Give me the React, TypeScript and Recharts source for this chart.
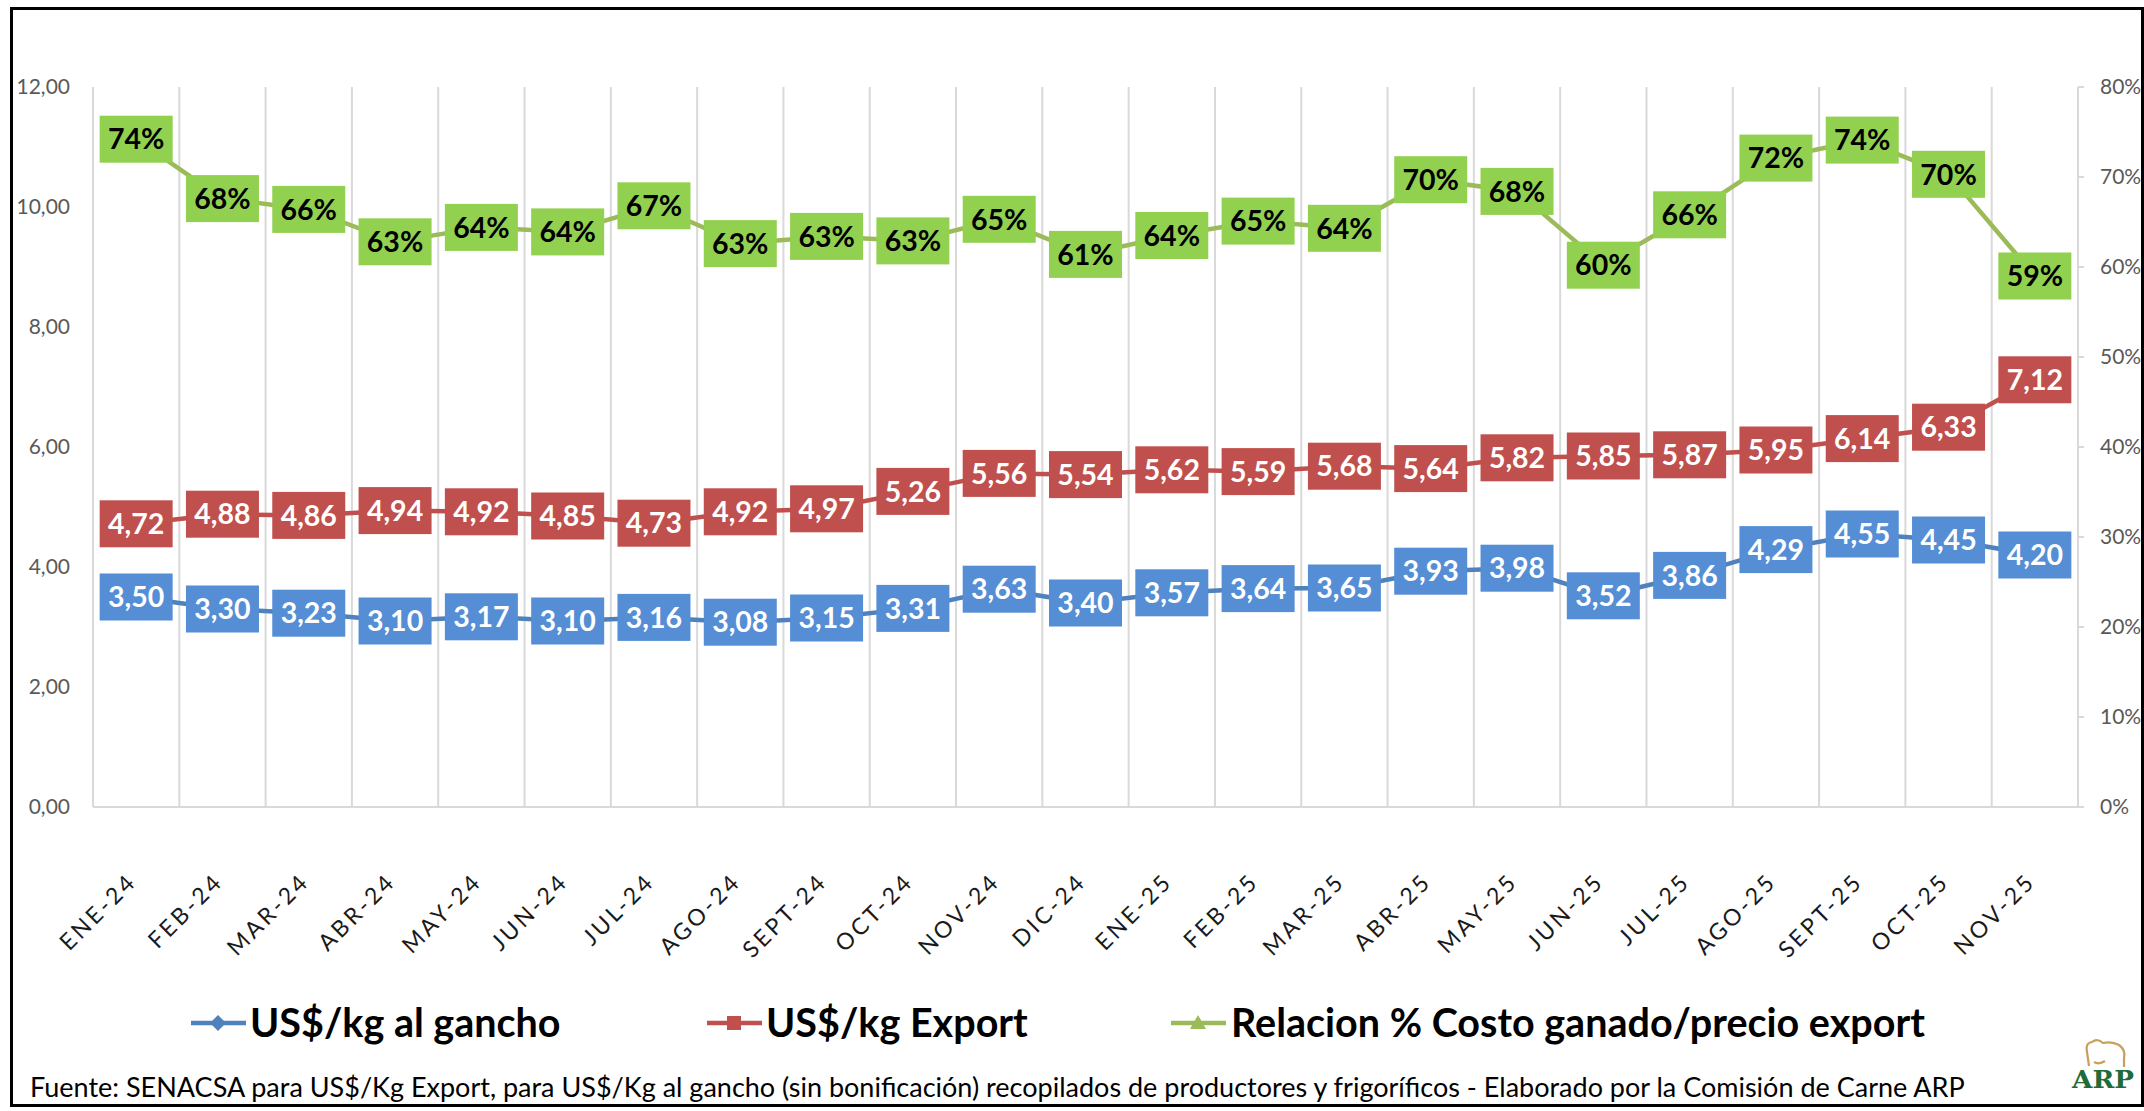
import React from 'react';
import { LineChart, Line, XAxis, YAxis, ReferenceLine, LabelList } from 'recharts';

if (typeof document !== 'undefined') {
  document.body.style.margin = '0';
}

const categories = [
  'ENE-24', 'FEB-24', 'MAR-24', 'ABR-24', 'MAY-24', 'JUN-24', 'JUL-24', 'AGO-24', 'SEPT-24', 'OCT-24', 'NOV-24', 'DIC-24',
  'ENE-25', 'FEB-25', 'MAR-25', 'ABR-25', 'MAY-25', 'JUN-25', 'JUL-25', 'AGO-25', 'SEPT-25', 'OCT-25', 'NOV-25',
];
const gancho = [3.50, 3.30, 3.23, 3.10, 3.17, 3.10, 3.16, 3.08, 3.15, 3.31, 3.63, 3.40, 3.57, 3.64, 3.65, 3.93, 3.98, 3.52, 3.86, 4.29, 4.55, 4.45, 4.20];
const exportPrice = [4.72, 4.88, 4.86, 4.94, 4.92, 4.85, 4.73, 4.92, 4.97, 5.26, 5.56, 5.54, 5.62, 5.59, 5.68, 5.64, 5.82, 5.85, 5.87, 5.95, 6.14, 6.33, 7.12];
const relacion = [0.742, 0.676, 0.664, 0.628, 0.644, 0.639, 0.668, 0.626, 0.634, 0.629, 0.653, 0.614, 0.635, 0.651, 0.643, 0.697, 0.684, 0.602, 0.658, 0.721, 0.741, 0.703, 0.590];
const leftTicks = [0, 2, 4, 6, 8, 10, 12];
const rightTicks = [0, 0.1, 0.2, 0.3, 0.4, 0.5, 0.6, 0.7, 0.8];

const seriesNames = ['US$/kg al gancho', 'US$/kg Export', 'Relacion % Costo ganado/precio export'];
const footerText = 'Fuente: SENACSA para US$/Kg Export, para US$/Kg al gancho (sin bonificación) recopilados de productores y frigoríficos - Elaborado por la Comisión de Carne ARP';

const data = categories.map((c, i) => ({ idx: i, cat: c, gancho: gancho[i], exp: exportPrice[i], rel: relacion[i] }));
const boundaries = [...categories.map((_, i) => i - 0.5), categories.length - 0.5];

const FONT = 'Lato, "Open Sans", sans-serif';
const BLUE_BOX = '#558ed5';
const BLUE_LINE = '#4f81bd';
const RED = '#c0504d';
const GREEN_BOX = '#92d050';
const GREEN_LINE = '#9bbb59';
const GRID = '#d9d9d9';

const fmtNum = (v: number) => v.toFixed(2).replace('.', ',');
const fmtPct = (v: number) => `${Math.round(v * 100)}%`;

const makeLabel = (fill: string, color: string, fmt: (v: number) => string) => (props: any) => {
  const { x, y, value } = props;
  if (x == null || y == null) return null;
  return (
    <g>
      <rect x={x - 36.5} y={y - 23.5} width={73} height={47} fill={fill} />
      <text x={x} y={y} dy="0.36em" textAnchor="middle" fill={color} fontFamily={FONT} fontWeight={700} fontSize={28.5}>
        {fmt(value)}
      </text>
    </g>
  );
};

const XTick = (props: any) => {
  const { x, y, payload } = props;
  const bx = x + 2;
  const by = y + 68;
  return (
    <text x={bx} y={by} transform={`rotate(-45 ${bx} ${by})`} textAnchor="end" fill="#1a1a1a" fontFamily={FONT} fontSize={23} letterSpacing={3}>
      {categories[payload.value]}
    </text>
  );
};

const LegendMarker = ({ kind, color, x }: { kind: string; color: string; x: number }) => {
  const cx = x + 27;
  const cy = 1023;
  let shape: React.ReactNode = null;
  if (kind === 'diamond') shape = <polygon points={`${cx},${cy - 8} ${cx + 8},${cy} ${cx},${cy + 8} ${cx - 8},${cy}`} fill={color} />;
  if (kind === 'square') shape = <rect x={cx - 7} y={cy - 7} width={14} height={14} fill={color} />;
  if (kind === 'triangle') shape = <polygon points={`${cx},${cy - 8} ${cx + 8},${cy + 6} ${cx - 8},${cy + 6}`} fill={color} />;
  return (
    <g>
      <line x1={x} x2={x + 55} y1={cy} y2={cy} stroke={color} strokeWidth={4.5} />
      {shape}
    </g>
  );
};

export default function App() {
  return (
    <div style={{ position: 'relative', width: 2144, height: 1111, overflow: 'hidden', background: '#fff' }}>
      <div style={{ position: 'absolute', left: 0, top: 0 }}>
        <LineChart width={2144} height={1111} data={data} margin={{ top: 87, right: 0, bottom: 204, left: 0 }}>
          <XAxis
            type="number"
            dataKey="idx"
            domain={[-0.5, categories.length - 0.5]}
            ticks={categories.map((_, i) => i)}
            interval={0}
            tick={<XTick />}
            tickLine={false}
            axisLine={{ stroke: GRID, strokeWidth: 2 }}
            height={100}
          />
          <YAxis
            yAxisId="left"
            domain={[0, 12]}
            ticks={leftTicks}
            tickFormatter={fmtNum}
            axisLine={false}
            tickLine={false}
            tickSize={6}
            tickMargin={17}
            width={93}
            tick={{ fill: '#595959', fontFamily: FONT, fontSize: 21 }}
          />
          <YAxis
            yAxisId="right"
            orientation="right"
            domain={[0, 0.8]}
            ticks={rightTicks}
            tickFormatter={fmtPct}
            axisLine={{ stroke: GRID, strokeWidth: 2 }}
            tickLine={{ stroke: GRID, strokeWidth: 2 }}
            tickSize={6}
            tickMargin={16}
            width={66}
            tick={{ fill: '#595959', fontFamily: FONT, fontSize: 21 }}
          />
          {boundaries.map((b) => (
            <ReferenceLine key={b} x={b} yAxisId="left" stroke={GRID} strokeWidth={2} />
          ))}
          <Line yAxisId="left" dataKey="gancho" stroke={BLUE_LINE} strokeWidth={4.5} dot={false} isAnimationActive={false}>
            <LabelList dataKey="gancho" content={makeLabel(BLUE_BOX, '#ffffff', fmtNum)} />
          </Line>
          <Line yAxisId="left" dataKey="exp" stroke={RED} strokeWidth={4.5} dot={false} isAnimationActive={false}>
            <LabelList dataKey="exp" content={makeLabel(RED, '#ffffff', fmtNum)} />
          </Line>
          <Line yAxisId="right" dataKey="rel" stroke={GREEN_LINE} strokeWidth={4.5} dot={false} isAnimationActive={false}>
            <LabelList dataKey="rel" content={makeLabel(GREEN_BOX, '#000000', fmtPct)} />
          </Line>
        </LineChart>
      </div>
      <svg width={2144} height={1111} style={{ position: 'absolute', left: 0, top: 0, pointerEvents: 'none' }}>
        <LegendMarker kind="diamond" color={BLUE_LINE} x={191} />
        <text x={250} y={1037} fontFamily={FONT} fontWeight={700} fontSize={39.5} fill="#000">{seriesNames[0]}</text>
        <LegendMarker kind="square" color={RED} x={707} />
        <text x={766} y={1037} fontFamily={FONT} fontWeight={700} fontSize={39.5} fill="#000">{seriesNames[1]}</text>
        <LegendMarker kind="triangle" color={GREEN_LINE} x={1171} />
        <text x={1231} y={1037} fontFamily={FONT} fontWeight={700} fontSize={39.5} fill="#000">{seriesNames[2]}</text>
        <text x={30} y={1097} fontFamily={FONT} fontSize={27} fill="#000">{footerText}</text>
        <g>
          <path
            d="M2089 1066 L2087 1052 Q2085 1043 2092 1042 Q2097 1038 2103 1043 Q2112 1041 2119 1045 Q2126 1050 2124 1058 L2124 1067 M2094 1062 Q2099 1065 2105 1061"
            fill="none"
            stroke="#c9a05a"
            strokeWidth={2.2}
          />
          <text x={2072} y={1088} textLength={62} lengthAdjust="spacingAndGlyphs" fontFamily="'DejaVu Serif', serif" fontWeight={700} fontSize={24} fill="#1f6b3a">ARP</text>
        </g>
      </svg>
      <div style={{ position: 'absolute', left: 10, top: 7, width: 2134, height: 1100, border: '3px solid #000', boxSizing: 'border-box', pointerEvents: 'none' }} />
    </div>
  );
}
